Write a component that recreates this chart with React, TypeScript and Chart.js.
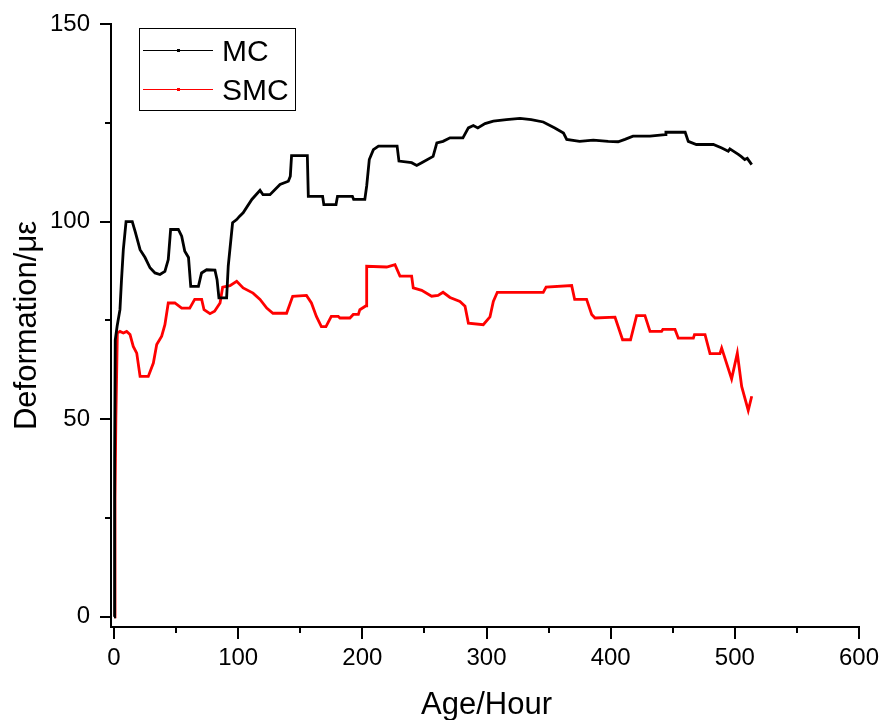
import React, { useEffect, useRef } from "react";
import { Chart, registerables } from "chart.js";

Chart.register(...registerables);

const mcHours = [0, 0.5, 1, 2.5, 4.8, 6, 7.5, 9.7, 14.7, 17, 21, 25, 29, 33, 37, 41, 43.7, 45.6, 51.8, 54.5, 57, 60, 61.8, 68, 70.5, 74.6, 81.3, 83, 84.5, 90.7, 92, 95.5, 98.8, 101, 104, 111, 117.6, 120, 125.6, 133.7, 140.4, 142, 143, 155.7, 156.5, 168, 169, 178.8, 180, 192, 193, 202, 203.5, 205.6, 208.9, 213, 228, 229.5, 239.7, 243.8, 247.8, 257, 260, 265, 270.6, 281, 285.4, 289.4, 293, 298.8, 305.5, 316, 327, 336, 345.7, 355, 362, 364.6, 375, 386, 398, 406, 411.5, 418, 431.7, 443.8, 444.5, 460, 462.5, 469, 482.7, 489.5, 494.7, 496, 502.8, 505, 508, 510, 513.6];
const mcValues = [0, 40, 70, 73.5, 77.7, 85, 92.9, 100, 100, 97.5, 92.9, 90.9, 88.3, 87, 86.6, 87.4, 90.4, 98, 98, 96.3, 92.5, 90.9, 83.6, 83.6, 87, 87.8, 87.7, 85.3, 80.7, 80.7, 88.7, 99.7, 100.5, 101.3, 102.2, 105.6, 107.9, 106.8, 106.8, 109.4, 110.2, 111.5, 116.7, 116.7, 106.4, 106.4, 104.3, 104.3, 106.4, 106.4, 105.6, 105.6, 109, 115.7, 118.2, 119.1, 119.1, 115.3, 114.9, 114.2, 114.9, 116.5, 119.9, 120.3, 121.2, 121.2, 123.7, 124.3, 123.7, 124.8, 125.4, 125.8, 126.1, 125.8, 125.2, 123.7, 122.4, 120.8, 120.3, 120.6, 120.3, 120.2, 120.8, 121.6, 121.6, 122, 122.6, 122.6, 120.3, 119.5, 119.5, 118.6, 117.8, 118.4, 117, 116.5, 115.7, 116, 114.4];

const smcHours = [0, 0.8, 1.5, 2.7, 4.8, 7.5, 10.2, 12.9, 15.5, 18.3, 21, 27.6, 31.7, 34.4, 38.4, 41, 43.7, 49, 54.5, 61, 65, 70.6, 72.5, 77.3, 81, 85.4, 87.5, 93.4, 98.8, 104, 112, 117.6, 123, 128, 139, 143.9, 155, 159, 163, 167, 170.7, 175, 180.6, 182, 190, 192.7, 196.8, 198, 203, 203.5, 219.6, 226.3, 230.3, 239.7, 241, 247.8, 255.8, 261, 265, 270.6, 278.6, 282.7, 285.4, 297.4, 302.8, 305.5, 308.7, 345.7, 348, 368.6, 371, 380.6, 384.7, 387.4, 403.5, 409.6, 416, 420.9, 427.6, 431.7, 441, 442, 451.8, 454.5, 466.6, 467.5, 476, 480, 488, 489.4, 497.4, 502, 505.5, 510.8, 513.6];
const smcValues = [0, 30, 50, 71.8, 72.2, 71.8, 72.2, 71.4, 68.4, 66.7, 60.8, 60.8, 64.2, 68.9, 71, 73.9, 79.4, 79.4, 78.1, 78.1, 80.3, 80.3, 77.7, 76.7, 77.3, 79.4, 83.4, 83.8, 84.9, 83.2, 81.9, 80.3, 78.1, 76.8, 76.8, 81.1, 81.3, 79.4, 76, 73.4, 73.4, 76, 76, 75.6, 75.6, 76.5, 76.5, 77.7, 78.7, 88.7, 88.5, 89.1, 86.2, 86.2, 83.2, 82.6, 81.1, 81.3, 82.1, 80.8, 79.8, 78.6, 74.3, 73.9, 75.9, 79.8, 82.1, 82.1, 83.4, 83.8, 80.3, 80.3, 76.5, 75.6, 75.8, 70.1, 70.1, 76.2, 76.2, 72.2, 72.2, 72.7, 72.7, 70.5, 70.5, 71.4, 71.4, 66.6, 66.6, 68, 60.2, 66.7, 58.3, 52.2, 55.8];

const xMajorTicks = [0, 100, 200, 300, 400, 500, 600];
const xMinorTicks = [50, 150, 250, 350, 450, 550];
const yMajorTicks = [0, 50, 100, 150];
const yMinorTicks = [25, 75, 125];

const seriesNames = ["MC", "SMC"];
const seriesColors = ["#000000", "#ff0000"];
const xTitle = "Age/Hour";
const yTitle = "Deformation/\u03bc\u03b5";

const FONT = "'Liberation Sans', Arial, sans-serif";

const decorPlugin = {
  id: "decor",
  afterDraw(chart: any) {
    const ctx = chart.ctx;
    const xs = chart.scales.x;
    const ys = chart.scales.y;
    const ca = chart.chartArea;
    ctx.save();
    ctx.strokeStyle = "#000";
    ctx.lineWidth = 2;
    ctx.lineCap = "butt";
    const drawX = (v: number, len: number) => {
      const px = Math.round(xs.getPixelForValue(v));
      ctx.beginPath();
      ctx.moveTo(px, ca.bottom);
      ctx.lineTo(px, ca.bottom + len);
      ctx.stroke();
    };
    xMajorTicks.forEach((v) => drawX(v, 12));
    xMinorTicks.forEach((v) => drawX(v, 6));
    const drawY = (v: number, len: number) => {
      const py = Math.round(ys.getPixelForValue(v));
      ctx.beginPath();
      ctx.moveTo(ca.left, py);
      ctx.lineTo(ca.left - len, py);
      ctx.stroke();
    };
    yMajorTicks.forEach((v) => drawY(v, 11));
    yMinorTicks.forEach((v) => drawY(v, 6));

    ctx.fillStyle = "#000";
    ctx.font = `31px ${FONT}`;
    ctx.textAlign = "center";
    ctx.textBaseline = "alphabetic";
    ctx.fillText(xTitle, (xs.getPixelForValue(0) + xs.getPixelForValue(600)) / 2, 714);
    ctx.save();
    ctx.translate(36, (ca.top + ca.bottom) / 2);
    ctx.rotate(-Math.PI / 2);
    ctx.fillText(yTitle, 0, 0);
    ctx.restore();

    ctx.lineWidth = 1;
    ctx.strokeStyle = "#000";
    ctx.strokeRect(139.5, 28.5, 156, 82);
    const rows = [50, 89];
    const bases = [61, 100];
    ctx.font = `30px ${FONT}`;
    ctx.textAlign = "left";
    seriesNames.forEach((name, i) => {
      ctx.strokeStyle = seriesColors[i];
      ctx.lineWidth = 1;
      ctx.beginPath();
      ctx.moveTo(143, rows[i] + 0.5);
      ctx.lineTo(213, rows[i] + 0.5);
      ctx.stroke();
      ctx.fillStyle = seriesColors[i];
      ctx.fillRect(177, rows[i] - 1, 3, 3);
      ctx.fillStyle = "#000";
      ctx.fillText(name, 222, bases[i]);
    });
    ctx.restore();
  },
};

export default function App() {
  const ref = useRef<HTMLCanvasElement | null>(null);
  useEffect(() => {
    if (!ref.current) return;
    const chart = new Chart(ref.current, {
      type: "line",
      data: {
        datasets: [
          {
            label: seriesNames[0],
            data: mcHours.map((h, i) => ({ x: h, y: mcValues[i] })),
            borderColor: seriesColors[0],
            backgroundColor: seriesColors[0],
            borderWidth: 2.8,
            pointRadius: 0,
            tension: 0,
          },
          {
            label: seriesNames[1],
            data: smcHours.map((h, i) => ({ x: h, y: smcValues[i] })),
            borderColor: seriesColors[1],
            backgroundColor: seriesColors[1],
            borderWidth: 2.8,
            pointRadius: 0,
            tension: 0,
          },
        ],
      },
      options: {
        animation: false,
        responsive: false,
        layout: { autoPadding: false, padding: { top: 24, right: 22, bottom: 0, left: 0 } },
        plugins: { legend: { display: false }, tooltip: { enabled: false } },
        scales: {
          x: {
            type: "linear",
            min: -2.42,
            max: 600,
            afterBuildTicks: (s: any) => {
              s.ticks = xMajorTicks.map((v) => ({ value: v }));
            },
            afterFit: (s: any) => {
              s.height = 93;
              s.paddingLeft = 0;
              s.paddingRight = 0;
              s.paddingTop = 0;
              s.paddingBottom = 0;
            },
            grid: { display: false, drawTicks: false },
            border: { display: true, color: "#000", width: 2 },
            ticks: {
              padding: 17,
              color: "#000",
              font: { family: FONT, size: 24 },
              maxRotation: 0,
              autoSkip: false,
            },
          },
          y: {
            type: "linear",
            min: -2.6,
            max: 150,
            afterBuildTicks: (s: any) => {
              s.ticks = yMajorTicks.map((v) => ({ value: v }));
            },
            afterFit: (s: any) => {
              s.width = 111;
              s.paddingLeft = 0;
              s.paddingRight = 0;
              s.paddingTop = 0;
              s.paddingBottom = 0;
            },
            grid: { display: false, drawTicks: false },
            border: { display: true, color: "#000", width: 2 },
            ticks: {
              padding: 21,
              color: "#000",
              font: { family: FONT, size: 24 },
              autoSkip: false,
            },
          },
        },
      },
      plugins: [decorPlugin],
    });
    return () => chart.destroy();
  }, []);
  return (
    <div style={{ position: "absolute", left: 0, top: 0, width: 881, height: 720, background: "#fff" }}>
      <canvas ref={ref} width={881} height={720} style={{ width: 881, height: 720 }} />
    </div>
  );
}
